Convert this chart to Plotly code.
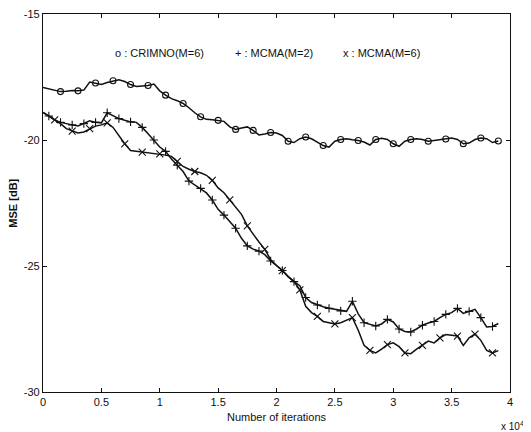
import plotly.graph_objects as go

# iterations (x 10^4), step 500 iterations
iters = [i * 0.05 for i in range(79)]

crimno_m6 = [-17.92, -17.98, -18.02, -18.08, -18.07, -18.04, -18.05, -18.02, -17.70, -17.74,
             -17.80, -17.72, -17.65, -17.61, -17.68, -17.80, -17.88, -17.86, -17.84, -17.78,
             -18.05, -18.22, -18.36, -18.44, -18.55, -18.72, -18.92, -19.08, -19.18, -19.20,
             -19.22, -19.26, -19.48, -19.58, -19.52, -19.48, -19.62, -19.80, -19.76, -19.70,
             -19.72, -19.82, -20.05, -20.10, -19.95, -19.88, -19.95, -20.10, -20.22, -20.28,
             -20.05, -19.98, -19.95, -19.99, -20.02, -20.08, -20.20, -19.98, -19.93, -19.98,
             -20.15, -20.25, -20.05, -19.98, -19.95, -19.98, -20.05, -20.02, -19.98, -19.96,
             -19.92, -19.98, -20.15, -20.12, -19.98, -19.92, -19.95, -20.10, -20.04]

mcma_m2 = [-18.90, -19.05, -19.20, -19.30, -19.36, -19.40, -19.44, -19.35, -19.24, -19.30,
           -19.32, -18.92, -19.05, -19.15, -19.22, -19.28, -19.30, -19.50, -19.75, -20.00,
           -20.28, -20.45, -20.75, -21.00, -21.25, -21.63, -21.78, -21.92, -22.10, -22.38,
           -22.75, -22.98, -23.22, -23.50, -23.90, -24.20, -24.33, -24.41, -24.55, -24.80,
           -24.98, -25.18, -25.42, -25.62, -25.78, -26.25, -26.45, -26.55, -26.62, -26.68,
           -26.72, -26.78, -26.80, -26.40, -26.90, -27.25, -27.32, -27.38, -27.30, -27.12,
           -27.22, -27.50, -27.60, -27.62, -27.50, -27.35, -27.26, -27.20, -27.05, -26.92,
           -26.85, -26.68, -26.88, -26.80, -26.72, -27.05, -27.42, -27.40, -27.28]

mcma_m6 = [-18.90, -19.05, -19.20, -19.35, -19.55, -19.65, -19.72, -19.68, -19.55, -19.45,
           -19.40, -19.32, -19.50, -19.85, -20.15, -20.42, -20.45, -20.48, -20.50, -20.52,
           -20.55, -20.60, -20.65, -20.85, -21.05, -21.16, -21.25, -21.30, -21.40, -21.60,
           -21.90, -22.09, -22.38, -22.70, -22.95, -23.41, -23.75, -24.05, -24.34, -24.75,
           -24.98, -25.18, -25.42, -25.62, -25.95, -26.60, -26.85, -27.00, -27.20, -27.25,
           -27.30, -27.25, -27.15, -27.05, -27.55, -28.15, -28.35, -28.45, -28.30, -28.12,
           -28.05, -28.20, -28.45, -28.48, -28.30, -28.15, -27.98, -28.05, -27.85, -27.72,
           -27.75, -27.78, -28.15, -27.85, -27.70, -27.95, -28.35, -28.45, -28.36]

x_ticks = [0, 0.5, 1, 1.5, 2, 2.5, 3, 3.5, 4]
x_tick_labels = ["0", "0.5", "1", "1.5", "2", "2.5", "3", "3.5", "4"]
y_ticks = [-30, -25, -20, -15]
y_tick_labels = ["-30", "-25", "-20", "-15"]

legend_texts = ["o : CRIMNO(M=6)", "+ : MCMA(M=2)", "x : MCMA(M=6)"]
legend_x = [1.0, 1.98, 2.9]
legend_y = -16.55

FONT = "Liberation Sans, Arial, sans-serif"
LC = "#111111"

fig = go.Figure()

series = [
    (crimno_m6, "circle-open", 3, 3, 6),
    (mcma_m2, "cross-thin-open", 1, 2, 6),
    (mcma_m6, "x-thin-open", 2, 3, 7),
]
for ys, sym, start, step, msize in series:
    fig.add_trace(go.Scatter(x=iters, y=ys, mode="lines",
                             line=dict(color=LC, width=1.5), showlegend=False,
                             hoverinfo="skip"))
    fig.add_trace(go.Scatter(x=iters[start::step], y=ys[start::step], mode="markers",
                             marker=dict(symbol=sym, size=msize, color=LC,
                                         line=dict(color=LC, width=1.1)),
                             showlegend=False, hoverinfo="skip"))

annotations = [
    dict(text=t, xref="x", yref="y", x=lx, y=legend_y, showarrow=False,
         font=dict(size=11, family=FONT), xanchor="center", yanchor="middle")
    for t, lx in zip(legend_texts, legend_x)
]
annotations += [
    dict(text="Number of iterations", xref="paper", yref="paper", x=0.5, y=-0.045,
         showarrow=False, xanchor="center", yanchor="top", font=dict(size=11, family=FONT)),
    dict(text="<b>MSE [dB]</b>", xref="paper", yref="paper", x=-0.065, y=0.5, textangle=-90,
         showarrow=False, xanchor="center", yanchor="middle", font=dict(size=11, family=FONT)),
    dict(text="x 10<sup>4</sup>", xref="paper", yref="paper", x=1.035, y=-0.07,
         showarrow=False, xanchor="right", yanchor="top", font=dict(size=10, family=FONT)),
]

# page body adds an 8px margin, so the figure is sized to the window minus that offset
fig.update_layout(
    width=523, height=424,
    margin=dict(l=35, r=21, t=6, b=40, autoexpand=False),
    paper_bgcolor="white", plot_bgcolor="white",
    font=dict(family=FONT, size=11, color="#111111"),
    xaxis=dict(range=[0, 4], tickvals=x_ticks, ticktext=x_tick_labels, automargin=False,
               ticklabeloverflow="allow",
               showgrid=False, zeroline=False, showline=True, mirror="ticks",
               linecolor="#111111", linewidth=1.2, ticks="inside", ticklen=4,
               tickcolor="#111111", tickfont=dict(size=11)),
    yaxis=dict(range=[-30, -15], tickvals=y_ticks, ticktext=y_tick_labels, automargin=False,
               ticklabeloverflow="allow",
               showgrid=False, zeroline=False, showline=True, mirror="ticks",
               linecolor="#111111", linewidth=1.2, ticks="inside", ticklen=4,
               tickcolor="#111111", tickfont=dict(size=11)),
    annotations=annotations,
)

fig.write_html("out.html")
